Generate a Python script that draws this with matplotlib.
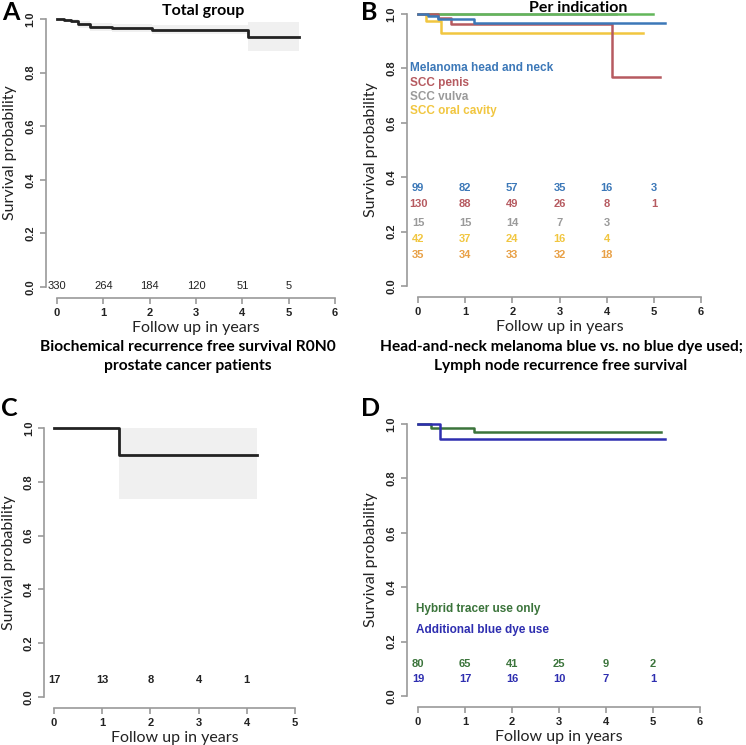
import matplotlib
matplotlib.use("Agg")
import matplotlib.pyplot as plt

W, H = 746, 745

# ---- data ----
# A: total group
a_times = [0, 0.14, 0.30, 0.45, 0.71, 1.19, 2.05, 4.12, 5.22]
a_surv = [1.0, 0.997, 0.993, 0.980, 0.971, 0.965, 0.960, 0.934, 0.934]
a_upper = [1.0, 1.0, 1.0, 0.992, 0.985, 0.982, 0.978, 0.988, 0.988]
a_lower = [1.0, 0.99, 0.985, 0.965, 0.955, 0.950, 0.945, 0.880, 0.880]
a_risk = [330, 264, 184, 120, 51, 5]

# B: per indication
b_mel_t = [0, 0.21, 0.42, 1.19, 5.24]
b_mel_s = [1.0, 0.993, 0.980, 0.967, 0.967]
b_penis_t = [0, 0.42, 0.70, 4.11, 5.13]
b_penis_s = [1.0, 0.984, 0.963, 0.770, 0.770]
b_vulva_t = [0, 4.2]
b_vulva_s = [1.0, 1.0]
b_oral_t = [0, 0.17, 0.49, 4.77]
b_oral_s = [1.0, 0.975, 0.929, 0.929]
b_other_t = [0, 4.98]
b_other_s = [1.0, 1.0]
b_labels = ["Melanoma head and neck", "SCC penis", "SCC vulva", "SCC oral cavity"]
b_risk = [
    [99, 82, 57, 35, 16, 3],
    [130, 88, 49, 26, 8, 1],
    [15, 15, 14, 7, 3],
    [42, 37, 24, 16, 4],
    [35, 34, 33, 32, 18],
]

# C: melanoma blue dye
c_times = [0, 1.35, 4.22]
c_surv = [1.0, 0.90, 0.90]
c_upper = [1.0, 1.0, 1.0]
c_lower = [1.0, 0.735, 0.735]
c_risk = [17, 13, 8, 4, 1]

# D: hybrid tracer vs blue dye
d_hyb_t = [0, 0.28, 1.19, 5.17]
d_hyb_s = [1.0, 0.985, 0.969, 0.969]
d_blue_t = [0, 0.46, 5.25]
d_blue_s = [1.0, 0.944, 0.944]
d_labels = ["Hybrid tracer use only", "Additional blue dye use"]
d_risk_hyb = [80, 65, 41, 25, 9, 2]
d_risk_blue = [19, 17, 16, 10, 7, 1]

col_blue = "#3c78b8"
col_red = "#b65a60"
col_gray = "#9a9a9a"
col_yellow = "#f1c640"
col_orange = "#e8a046"
col_green = "#63b65a"
col_dgreen = "#3b743b"
col_dblue = "#2e2eb0"

num_font = "Liberation Sans"
txt_font = "Lato"


def px_axes(fig, l, t, r, b):
    return fig.add_axes([l / W, 1 - b / H, (r - l) / W, (b - t) / H])


def style(ax, xmax):
    ax.set_xlim(-0.04 * xmax, xmax * 1.04)
    ax.set_ylim(-0.04, 1.04)
    for s in ["top", "right"]:
        ax.spines[s].set_visible(False)
    for s in ["left", "bottom"]:
        ax.spines[s].set_color("#9a9a9a")
        ax.spines[s].set_linewidth(1.2)
    ax.spines["left"].set_bounds(0, 1)
    ax.spines["bottom"].set_bounds(0, xmax)
    ax.set_xticks(range(0, xmax + 1))
    ax.set_yticks([0, 0.2, 0.4, 0.6, 0.8, 1.0])
    ax.set_yticklabels(["0.0", "0.2", "0.4", "0.6", "0.8", "1.0"],
                       rotation=90, va="center")
    ax.tick_params(colors="#9a9a9a", labelcolor="#222222", length=4, width=1.2,
                   labelsize=8)
    for lab in ax.get_xticklabels() + ax.get_yticklabels():
        lab.set_fontfamily(num_font)
        lab.set_fontweight("bold")
    ax.set_ylabel("Survival probability", fontsize=11.5, family=txt_font,
                  color="#222222", labelpad=6)
    ax.set_xlabel("Follow up in years", fontsize=11.5, family=txt_font,
                  color="#222222", labelpad=2)
    ax.patch.set_alpha(0)


def risk_row(ax, values, y, color, bold=True):
    for i, v in enumerate(values):
        ax.text(i, y, str(v), ha="center", va="center", fontsize=8,
                family=num_font, fontweight="bold" if bold else "normal",
                color=color)


fig = plt.figure(figsize=(W / 100, H / 100), dpi=100)

# ---- A ----
ax = px_axes(fig, 46, 8.3, 346, 297.7)
style(ax, 6)
ax.fill_between(a_times, a_lower, a_upper, step="post", color="#f0f0f0", lw=0)
ax.step(a_times, a_surv, where="post", color="#222222", lw=2)
risk_row(ax, a_risk, 0.003, "#222222", bold=False)

# ---- B ----
ax = px_axes(fig, 406.7, 3.1, 712.3, 296.9)
style(ax, 6)
ax.step(b_vulva_t, b_vulva_s, where="post", color=col_gray, lw=1.8)
ax.step(b_other_t, b_other_s, where="post", color=col_green, lw=1.8)
ax.step(b_oral_t, b_oral_s, where="post", color=col_yellow, lw=1.8)
ax.step(b_penis_t, b_penis_s, where="post", color=col_red, lw=1.8)
ax.step(b_mel_t, b_mel_s, where="post", color=col_blue, lw=1.8)
for lab, y, c in zip(b_labels, [0.80, 0.748, 0.696, 0.643],
                     [col_blue, col_red, col_gray, col_yellow]):
    ax.text(-0.16, y, lab, ha="left", va="center", fontsize=8.5,
            family=num_font, fontweight="bold", color=c)
for row, y, c in zip(b_risk, [0.36, 0.30, 0.233, 0.173, 0.113],
                     [col_blue, col_red, col_gray, col_yellow, col_orange]):
    risk_row(ax, row, y, c)

# ---- C ----
ax = px_axes(fig, 44.4, 417.2, 304.6, 707.8)
style(ax, 5)
ax.fill_between(c_times, c_lower, c_upper, step="post", color="#f0f0f0", lw=0)
ax.step(c_times, c_surv, where="post", color="#222222", lw=2)
risk_row(ax, c_risk, 0.063, "#222222")

# ---- D ----
ax = px_axes(fig, 406.7, 413.1, 711.3, 706.9)
style(ax, 6)
ax.step(d_hyb_t, d_hyb_s, where="post", color=col_dgreen, lw=1.8)
ax.step(d_blue_t, d_blue_s, where="post", color=col_dblue, lw=1.8)
for lab, y, c in zip(d_labels, [0.32, 0.243], [col_dgreen, col_dblue]):
    ax.text(-0.04, y, lab, ha="left", va="center", fontsize=8.5,
            family=num_font, fontweight="bold", color=c)
risk_row(ax, d_risk_hyb, 0.116, col_dgreen)
risk_row(ax, d_risk_blue, 0.061, col_dblue)

# ---- titles, panel letters and captions ----
fig.text(203 / W, 1 - 11 / H, "Total group", ha="center", va="center",
         fontsize=11.5, family=txt_font, fontweight="bold")
fig.text(578 / W, 1 - 8 / H, "Per indication", ha="center", va="center",
         fontsize=11.5, family=txt_font, fontweight="bold")
for letter, x, y in [("A", 2, 12), ("B", 361, 12), ("C", 1, 409), ("D", 361, 409)]:
    fig.text(x / W, 1 - y / H, letter, ha="left", va="center", fontsize=18,
             family=txt_font, fontweight="bold")
fig.text(188 / W, 1 - 347 / H, "Biochemical recurrence free survival R0N0",
         ha="center", va="center", fontsize=11.2, family=txt_font, fontweight="bold")
fig.text(188 / W, 1 - 366 / H, "prostate cancer patients",
         ha="center", va="center", fontsize=11.2, family=txt_font, fontweight="bold")
fig.text(561 / W, 1 - 347 / H, "Head-and-neck melanoma blue vs. no blue dye used;",
         ha="center", va="center", fontsize=11.2, family=txt_font, fontweight="bold")
fig.text(561 / W, 1 - 366 / H, "Lymph node recurrence free survival",
         ha="center", va="center", fontsize=11.2, family=txt_font, fontweight="bold")

fig.savefig("out.png", dpi=100, facecolor="white")
